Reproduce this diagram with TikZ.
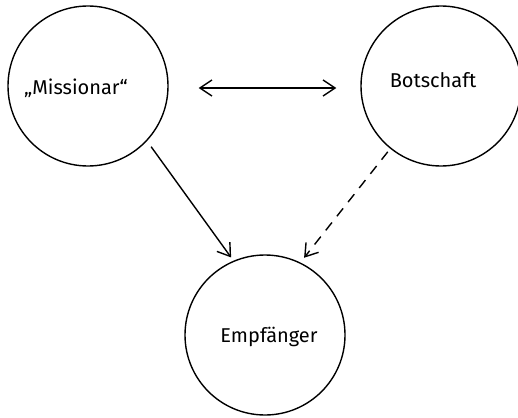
\documentclass[tikz,border=0pt]{standalone}
\usepackage{fontspec}
\setmainfont{Fira Sans}
\usetikzlibrary{arrows.meta}
\begin{document}
\begin{tikzpicture}[x=0.5pt,y=-0.5pt,line width=0.7pt,
    rund/.style={draw,circle,minimum size=80pt,inner sep=0pt},
    txt/.style={font=\fontsize{10}{12}\selectfont},
    spitze/.tip={Straight Barb[length=6pt,width=8pt]},
    pfeil/.style={-spitze}]  % drei Kreise
	\useasboundingbox (0,0) rectangle (518,417);
	\node[rund] (mis) at (88,86) {};
	\node[rund] (bot) at (441,86) {};
	\node[rund] (emp) at (265,335) {};
	\node[txt] (tmis) at (76,88) {„Missionar“};
	\node[txt] (tbot) at (433,80) {Botschaft};
	\node[txt] (temp) at (269,337) {Empfänger};
	\draw[spitze-spitze, shorten <=15pt, shorten >=12pt] ([yshift=-1pt]mis.east) -- ([yshift=-1pt]bot.west);
	\draw[pfeil, shorten <=3.5pt, shorten >=2pt] (mis.-43) -- (emp.113);
	\draw[pfeil, dash pattern=on 5pt off 4pt, shorten <=2pt, shorten >=3pt] (bot.-129) -- (emp.64);
\end{tikzpicture}
\end{document}
